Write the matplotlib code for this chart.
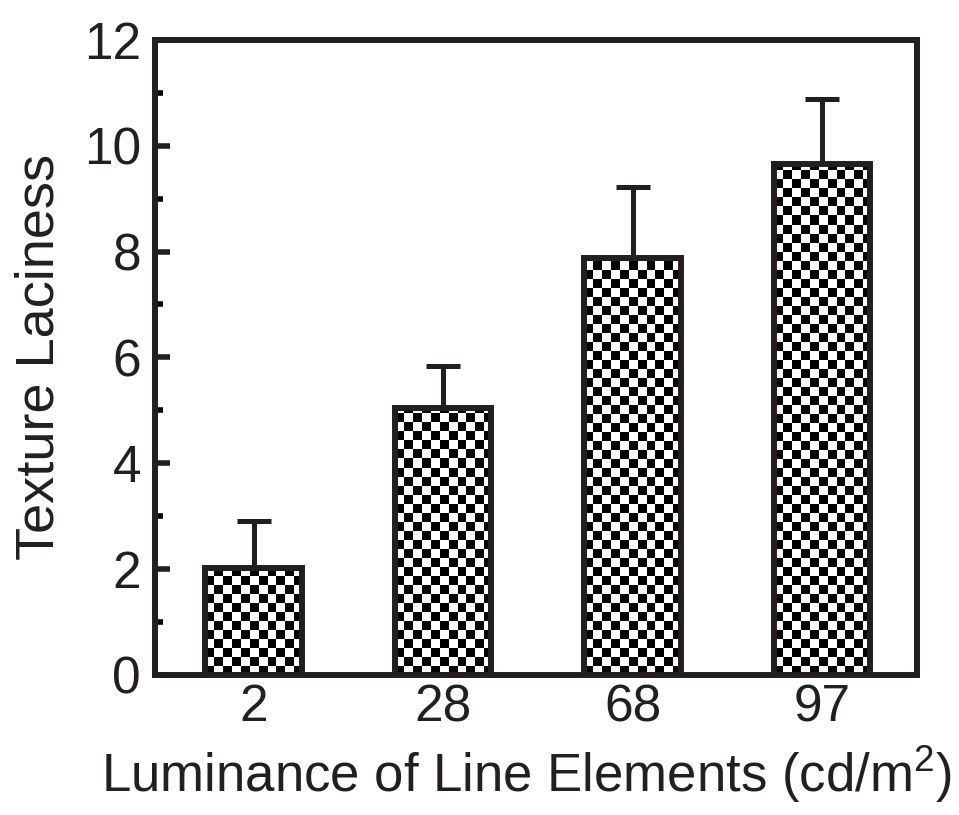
import numpy as np
import matplotlib
matplotlib.use("Agg")
import matplotlib.pyplot as plt
from matplotlib.ticker import MultipleLocator

plt.rcParams['font.family'] = ['Liberation Sans', 'DejaVu Sans']
plt.rcParams['mathtext.default'] = 'regular'

# data
luminance = ['2', '28', '68', '97']
laciness = [2.02, 5.05, 7.88, 9.66]
err_up = [0.88, 0.79, 1.34, 1.23]

fig = plt.figure(figsize=(9.59, 8.15), dpi=100)
ax = fig.add_axes([0.1616, 0.172, 0.7944, 0.779])

x = np.arange(len(luminance))
width = 0.51
bars = ax.bar(x, laciness, width=width, facecolor='none', edgecolor='#231f20',
              linewidth=4.3, zorder=3)

# checkerboard fill for each bar, clipped to the bar outline
cell_x = 0.047
cell_y = 0.17
for b in bars:
    x0, y0 = b.get_x(), b.get_y()
    w, h = b.get_width(), b.get_height()
    nx = int(np.ceil(w / cell_x))
    ny = int(np.ceil(h / cell_y))
    board = (np.add.outer(np.arange(ny), np.arange(nx)) % 2).astype(float)
    im = ax.imshow(board, cmap='gray', vmin=0, vmax=1, interpolation='nearest',
                   extent=(x0, x0 + nx * cell_x, y0, y0 + ny * cell_y),
                   origin='lower', aspect='auto', zorder=2)
    im.set_clip_path(b)

ax.errorbar(x, laciness, yerr=[np.zeros(len(err_up)), err_up], fmt='none',
            ecolor='#231f20', elinewidth=3.6, capsize=12, capthick=3.6, zorder=1)

ax.set_xlim(-0.52, 3.5)
ax.set_ylim(0, 12)
ax.set_xticks(x)
ax.set_xticklabels(luminance)
ax.yaxis.set_major_locator(MultipleLocator(2))
ax.yaxis.set_minor_locator(MultipleLocator(1))
ax.tick_params(axis='y', which='major', direction='in', length=11, width=4,
               labelsize=37, pad=10, colors='#231f20')
ax.tick_params(axis='y', which='minor', direction='in', length=6, width=4)
ax.tick_params(axis='x', length=0, labelsize=37, pad=6, colors='#231f20')
for s in ax.spines.values():
    s.set_linewidth(4.3)
    s.set_color('#231f20')

ax.set_ylabel('Texture Laciness', fontsize=39, labelpad=14, color='#231f20')
ax.set_xlabel('Luminance of Line Elements (cd/m$^{2}$)', fontsize=38,
              color='#231f20')
ax.xaxis.set_label_coords(0.487, -0.108)

fig.savefig('out.png', dpi=100)
